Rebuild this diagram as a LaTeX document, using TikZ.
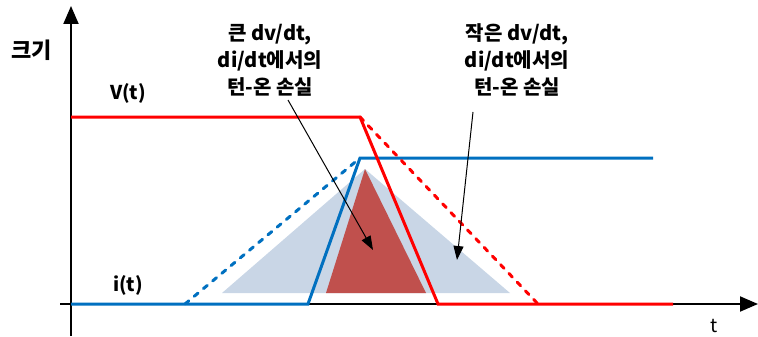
\documentclass[tikz,border=0pt]{standalone}
\usepackage{fontspec}
\setmainfont{Noto Sans CJK KR}
\usetikzlibrary{arrows.meta}
\definecolor{sigred}{HTML}{FF0000}
\definecolor{sigblue}{HTML}{0070C0}
\definecolor{lossgray}{HTML}{C9D6E6}
\definecolor{lossred}{HTML}{C0504D}
\tikzset{
  axis/.style={line width=2pt, -{Triangle[length=18pt,width=15pt]}},
  vline/.style={sigred, line width=3pt, line join=miter},
  iline/.style={sigblue, line width=3pt, line join=miter},
  dashsig/.style={line cap=round, dash pattern=on 5pt off 7pt},
  note/.style={black, line width=1pt, -{Triangle[length=14pt,width=10pt]}},
  lbl/.style={font=\fontsize{20}{27}\selectfont\bfseries, align=center, inner sep=0pt},
  sig/.style={font=\fontsize{19}{22}\selectfont\bfseries, inner sep=0pt}
}
\begin{document}
\begin{tikzpicture}[x=1pt,y=-1pt]
\useasboundingbox (0,0) rectangle (758,337);
% loss triangles
\fill[lossgray] (222,293) -- (365,169) -- (510,293) -- cycle;
\fill[lossred] (326,293) -- (365,169) -- (426,293) -- cycle;
% axes
\coordinate (xs) at (60,304);
\coordinate (xe) at (758,304);
\coordinate (ys) at (71,336);
\coordinate (ye) at (71,6);
\draw[axis] (xs) -- (xe);
\draw[axis] (ys) -- (ye);
% signals
\coordinate (v0) at (71,117);
\coordinate (v1) at (360,117);
\coordinate (v2) at (438,304);
\coordinate (v3) at (673,304);
\coordinate (v4) at (538,304);
\coordinate (i0) at (71,304);
\coordinate (i1) at (308,304);
\coordinate (i2) at (360,158);
\coordinate (i3) at (653,158);
\coordinate (i4) at (185,304);
\draw[iline] (i0) -- (i1) -- (i2) -- (i3);
\draw[iline, dashsig] (i4) -- (i2);
\draw[vline] (v0) -- (v1) -- (v2) -- (v3);
\draw[vline, dashsig] (v1) -- (v4);
% labels
\node[font=\fontsize{22}{24}\selectfont\bfseries, inner sep=0pt] (mag) at (32,50) {크기};
\node[sig] (vt) at (128,93) {V(t)};
\node[sig] (it) at (128,285) {i(t)};
\node[font=\fontsize{19}{22}\selectfont, inner sep=0pt] (tt) at (714,326) {t};
\node[lbl] (big) at (270,60) {큰 dv/dt,\\di/dt에서의\\턴-온 손실};
\node[lbl] (small) at (517,60) {작은 dv/dt,\\di/dt에서의\\턴-온 손실};
% annotation arrows
\coordinate (a1s) at (288,100);
\coordinate (a1e) at (373,250);
\coordinate (a2s) at (473,112);
\coordinate (a2e) at (457,260);
\draw[note] (a1s) -- (a1e);
\draw[note] (a2s) -- (a2e);
\end{tikzpicture}
\end{document}
